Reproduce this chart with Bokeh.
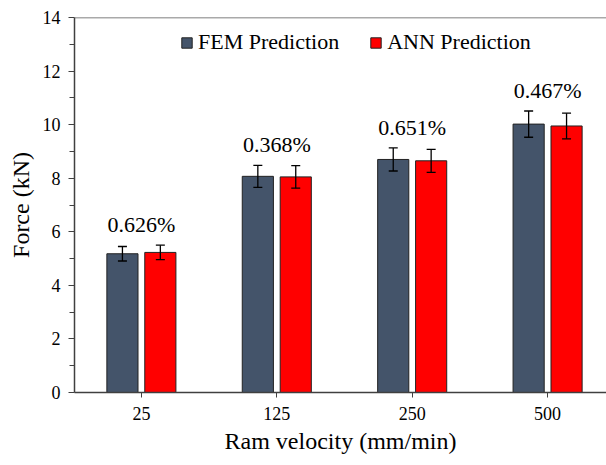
import numpy as np
from bokeh.plotting import figure
from bokeh.models import (ColumnDataSource, Whisker, TeeHead, Span, Legend, LegendItem,
                          FixedTicker, Range1d)
from bokeh.embed import file_html
from bokeh.resources import INLINE

# ---- data ----
velocities = ["25", "125", "250", "500"]
fem = [5.18, 8.07, 8.70, 10.02]
ann = [5.23, 8.05, 8.65, 9.95]
fem_err = [0.27, 0.41, 0.43, 0.49]
ann_err = [0.27, 0.42, 0.43, 0.48]
pct_labels = ["0.626%", "0.368%", "0.651%", "0.467%"]
y_ticks = [0, 2, 4, 6, 8, 10, 12, 14]

FEM_COLOR = "#44546a"
ANN_COLOR = "#ff0000"
FONT = "Times New Roman, Liberation Serif, serif"

idx = np.arange(len(velocities))
offset = 0.14
bw = 0.23

fem_src = ColumnDataSource(dict(x=idx - offset, top=fem,
                                upper=np.array(fem) + np.array(fem_err),
                                lower=np.array(fem) - np.array(fem_err)))
ann_src = ColumnDataSource(dict(x=idx + offset, top=ann,
                                upper=np.array(ann) + np.array(ann_err),
                                lower=np.array(ann) - np.array(ann_err)))
lab_src = ColumnDataSource(dict(
    x=idx,
    y=np.maximum(np.array(fem) + np.array(fem_err), np.array(ann) + np.array(ann_err)),
    text=pct_labels))

p = figure(width=606, height=465, output_backend="svg", toolbar_location=None,
           x_range=Range1d(-0.494, 3.435), y_range=Range1d(0, 14),
           min_border_left=74, min_border_right=0, min_border_top=17, min_border_bottom=73)
p.outline_line_color = None
p.xgrid.grid_line_color = None
p.ygrid.grid_line_color = None
p.background_fill_color = "white"
p.border_fill_color = "white"

r_fem = p.vbar(x="x", top="top", width=bw, source=fem_src, fill_color=FEM_COLOR,
               line_color="#222222", line_width=1)
r_ann = p.vbar(x="x", top="top", width=bw, source=ann_src, fill_color=ANN_COLOR,
               line_color="#222222", line_width=1)

for src in (fem_src, ann_src):
    w = Whisker(base="x", upper="upper", lower="lower", source=src,
                line_color="black", line_width=1.3, level="overlay",
                upper_head=TeeHead(size=9, line_color="black", line_width=1.3),
                lower_head=TeeHead(size=9, line_color="black", line_width=1.3))
    p.add_layout(w)

p.text(x="x", y="y", text="text", source=lab_src, text_align="center",
       text_baseline="bottom", y_offset=-8, text_font=FONT,
       text_font_size="22px", text_color="black")

p.add_layout(Span(location=14, dimension="width", line_color="#555555", line_width=1.5))

# axes
p.xaxis.ticker = FixedTicker(ticks=list(idx))
p.xaxis.major_label_overrides = {int(i): v for i, v in zip(idx, velocities)}
p.xaxis.axis_label = "Ram velocity (mm/min)"
p.yaxis.ticker = FixedTicker(ticks=y_ticks, minor_ticks=list(range(1, 14, 2)))
p.yaxis.axis_label = "Force (kN)"
for ax in (p.xaxis[0], p.yaxis[0]):
    ax.axis_line_color = "#404040"
    ax.axis_line_width = 1.5
    ax.major_tick_line_color = "#404040"
    ax.minor_tick_line_color = "#404040"
    ax.major_tick_in = 0
    ax.major_tick_out = 6
    ax.minor_tick_in = 0
    ax.minor_tick_out = 5
    ax.major_label_text_font = FONT
    ax.major_label_text_font_size = "18px"
    ax.major_label_text_color = "black"
    ax.axis_label_text_font = FONT
    ax.axis_label_text_font_size = "24px"
    ax.axis_label_text_font_style = "normal"
    ax.axis_label_text_color = "black"
p.xaxis.minor_tick_line_color = None
p.xaxis.major_tick_out = 5
p.xaxis.major_label_standoff = 9
p.xaxis.axis_label_standoff = 5
p.yaxis.major_label_standoff = 8
p.yaxis.axis_label_standoff = 6

legend = Legend(items=[LegendItem(label="FEM Prediction", renderers=[r_fem]),
                       LegendItem(label="ANN Prediction", renderers=[r_ann])],
                orientation="horizontal", location=(106, 337),
                glyph_width=13, glyph_height=13, label_standoff=5, spacing=30,
                padding=0, margin=0,
                label_text_font=FONT, label_text_font_size="22px",
                label_text_color="black",
                background_fill_alpha=0, border_line_color=None)
p.add_layout(legend)

open("out.html", "w").write(file_html(p, INLINE))
